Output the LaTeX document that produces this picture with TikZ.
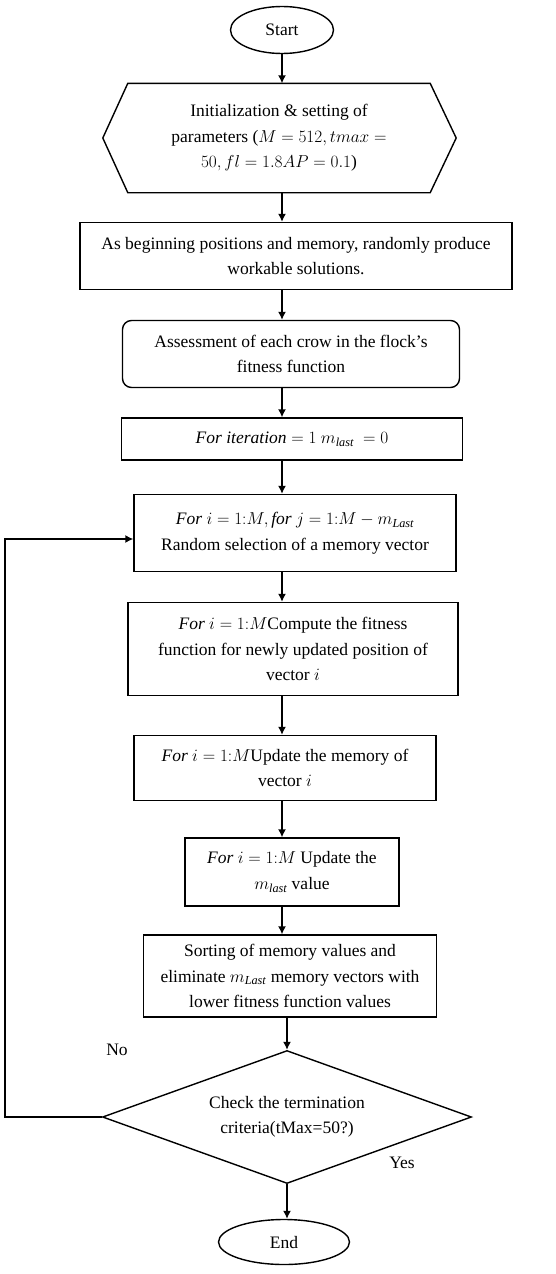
\documentclass[tikz,border=0pt]{standalone}
\usepackage{fontspec}
\setmainfont{Liberation Serif}
\usetikzlibrary{shapes.geometric,arrows.meta,calc}
\begin{document}
\begin{tikzpicture}[x=1pt,y=-1pt,
  every node/.style={font=\fontsize{17.5}{25.5}\selectfont, align=center, inner sep=0pt},
  box/.style={draw, line width=1.4pt, rectangle},
  rbox/.style={draw, line width=1.4pt, rectangle, rounded corners=9pt},
  term/.style={draw, line width=1.4pt, ellipse},
  dec/.style={draw, line width=1.4pt, diamond, aspect=2.77},
  arr/.style={line width=1.4pt, -{Latex[length=8pt,width=8pt]}},
  lab/.style={font=\fontsize{17.5}{20}\selectfont}]
\useasboundingbox (0,0) rectangle (556,1274);
\coordinate (axis) at (282,0);
\coordinate (loopx) at (5,0);

\node[term, minimum width=103pt, minimum height=47pt] (start) at (282,30) {Start};
\node[minimum width=302pt, minimum height=109pt] (init) at (279,138)
  {Initialization \& setting of\\ parameters ($M=512, tmax =$\\ $50, fl=1.8AP=0.1$)};
\draw[line width=1.4pt] (init.north west) -- (init.north east) -- ($(init.east)+(26,0)$)
  -- (init.south east) -- (init.south west) -- ($(init.west)+(-25,0)$) -- cycle;
\node[box, minimum width=432pt, minimum height=67pt] (prod) at (296,256)
  {As beginning positions and memory, randomly produce\\ workable solutions.};
\node[rbox, minimum width=337pt, minimum height=67pt] (assess) at (291,354)
  {Assessment of each crow in the flock's\\ fitness function};
\node[box, minimum width=341pt, minimum height=42pt] (iter) at (292,439)
  {$\mathit{For\ iteration}=1\ m_{\mathit{last}}\ =0$};
\node[box, minimum width=322pt, minimum height=77pt] (fori) at (295,533)
  {$\mathit{For}\ i=1{:}M, \mathit{for}\ j=1{:}M-m_{\mathit{Last}}$\\ Random selection of a memory vector};
\node[box, minimum width=330pt, minimum height=93pt] (comp) at (293,649)
  {$\mathit{For}\ i=1{:}M$Compute the fitness\\ function for newly updated position of\\ vector $i$};
\node[box, minimum width=302pt, minimum height=65pt] (updm) at (285,768)
  {$\mathit{For}\ i=1{:}M$Update the memory of\\ vector $i$};
\node[box, minimum width=214pt, minimum height=68pt] (mlast) at (292,872)
  {$\mathit{For}\ i=1{:}M$ Update the\\ $m_{\mathit{last}}$ value};
\node[box, minimum width=293pt, minimum height=82pt] (sort) at (290,976)
  {Sorting of memory values and\\ eliminate $m_{\mathit{Last}}$ memory vectors with\\ lower fitness function values};
\node[dec, minimum width=369pt, minimum height=133pt] (diam) at (287,1117)
  {Check the termination\\ criteria(tMax=50?)};
\node[term, minimum width=131pt, minimum height=45pt] (end) at (284,1242) {End};

\node[lab] (no) at (117,1050) {No};
\node[lab] (yes) at (402,1163) {Yes};

\draw[arr] (start.south -| axis) -- (init.north -| axis);
\draw[arr] (init.south -| axis) -- (prod.north -| axis);
\draw[arr] (prod.south -| axis) -- (assess.north -| axis);
\draw[arr] (assess.south -| axis) -- (iter.north -| axis);
\draw[arr] (iter.south -| axis) -- (fori.north -| axis);
\draw[arr] (fori.south -| axis) -- (comp.north -| axis);
\draw[arr] (comp.south -| axis) -- (updm.north -| axis);
\draw[arr] (updm.south -| axis) -- (mlast.north -| axis);
\draw[arr] (mlast.south -| axis) -- (sort.north -| axis);
\draw[arr] (sort.south -| diam.north) -- (diam.north);
\draw[arr] (diam.south) -- (diam.south |- end.north);
\draw[arr] (diam.west) -- (diam.west -| loopx) |- ($(fori.west)+(0,6)$);
\end{tikzpicture}
\end{document}
